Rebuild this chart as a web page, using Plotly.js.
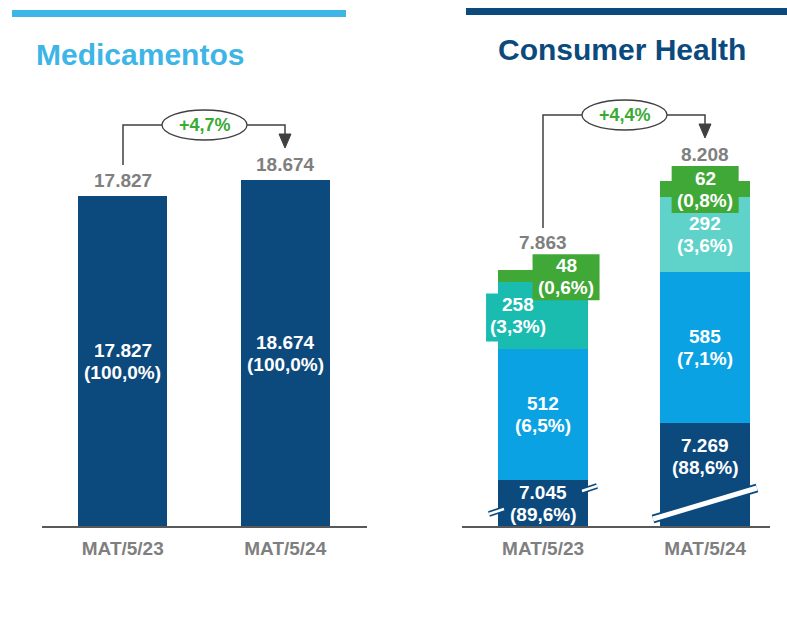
<!DOCTYPE html>
<html>
<head>
<meta charset="utf-8">
<script src="https://cdn.plot.ly/plotly-3.0.1.min.js"></script>
<style>html,body{margin:0;padding:0;background:#fff}#chart{width:787px;height:625px}</style>
</head>
<body>
<div id="chart"></div>
<script>
// ---------- DATA ----------
const categories = ['MAT/5/23', 'MAT/5/24'];
const medValues = [17827, 18674];
const medShares = [100.0, 100.0];
const medGrowth = 4.7;

const chSeg1 = [7045, 7269];   // dark blue (bottom)
const chSeg1Share = [89.6, 88.6];
const chSeg2 = [512, 585];     // light blue
const chSeg2Share = [6.5, 7.1];
const chSeg3 = [258, 292];     // teal
const chSeg3Share = [3.3, 3.6];
const chSeg4 = [48, 62];       // green (top)
const chSeg4Share = [0.6, 0.8];
const chTotals = [7863, 8208];
const chGrowth = 4.4;

// ---------- HELPERS ----------
const W = 787, H = 625;
const FONT = 'Liberation Sans, Arial, sans-serif';
const NAVY = '#0c4a7e', LBLUE = '#0aa2e2', GREEN = '#3fa836';
const TEAL = ['#1bbcb0', '#5fd2c9'];
const GRAY = '#7f7f7f';
const px = x => x / W;
const py = y => 1 - y / H;
const fmtNum = n => String(n).replace(/\B(?=(\d{3})+(?!\d))/g, '.');
const fmtPct = p => p.toFixed(1).replace('.', ',') + '%';

const CH_START = 6867;   // broken-axis start for Consumer Health
const LINE_GAP = 11;     // half line spacing for two-line labels

// ---------- TRACES ----------
const traces = [];
traces.push({
  type: 'bar', x: categories, y: medValues, xaxis: 'x', yaxis: 'y',
  marker: {color: NAVY}, width: 0.55, hoverinfo: 'skip'
});
const chSegs = [
  {v: chSeg1, s: chSeg1Share, c: [NAVY, NAVY]},
  {v: chSeg2, s: chSeg2Share, c: [LBLUE, LBLUE]},
  {v: chSeg3, s: chSeg3Share, c: TEAL},
  {v: chSeg4, s: chSeg4Share, c: [GREEN, GREEN]}
];
chSegs.forEach(seg => traces.push({
  type: 'bar', x: categories, y: seg.v, xaxis: 'x2', yaxis: 'y2',
  marker: {color: seg.c, line: {width: 0}}, width: 0.555, hoverinfo: 'skip'
}));

// ---------- ANNOTATIONS ----------
const ann = [];
const shapes = [];
const inFont = {family: FONT, size: 19, color: '#ffffff', weight: 'bold'};
const totFont = {family: FONT, size: 19, color: GRAY, weight: 'bold'};

function twoLine(xr, yr, x, y, l1, l2, xs, ys) {
  ann.push({xref: xr, yref: yr, x: x, y: y, text: l1, showarrow: false, xanchor: 'center', yanchor: 'middle',
    xshift: xs, yshift: ys + LINE_GAP, font: inFont});
  ann.push({xref: xr, yref: yr, x: x, y: y, text: l2, showarrow: false, xanchor: 'center', yanchor: 'middle',
    xshift: xs, yshift: ys - LINE_GAP, font: inFont});
}

// Medicamentos
medValues.forEach((v, i) => {
  ann.push({xref: 'x', yref: 'y', x: categories[i], y: v, text: fmtNum(v),
    showarrow: false, xanchor: 'center', yanchor: 'middle', yshift: 16, font: totFont});
  twoLine('x', 'y', categories[i], v / 2, fmtNum(v), '(' + fmtPct(medShares[i]) + ')', 0, 0);
});

// Consumer Health segments
const overrides = {
  '0-1': {ys: 18},
  '2-0': {xs: -25, box: TEAL[0], w: 64, h: 48, bys: -2},
  '3-0': {xs: 23, box: GREEN, w: 67, h: 46, bys: -1},
  '3-1': {box: GREEN, w: 67, h: 47, bys: 0}
};
const cum = [0, 0];
chSegs.forEach((seg, s) => {
  seg.v.forEach((v, i) => {
    const base = cum[i];
    const lo = Math.max(base, CH_START);
    const yMid = (lo + base + v) / 2;
    cum[i] += v;
    const o = overrides[s + '-' + i] || {};
    const xs = o.xs || 0, ys = o.ys || 0;
    if (o.box) {
      shapes.push({type: 'rect', xref: 'x2', yref: 'y2', xsizemode: 'pixel', ysizemode: 'pixel',
        xanchor: categories[i], yanchor: yMid, x0: xs - o.w / 2, x1: xs + o.w / 2,
        y0: o.bys - o.h / 2, y1: o.bys + o.h / 2, fillcolor: o.box, line: {width: 0}, layer: 'above'});
    }
    twoLine('x2', 'y2', categories[i], yMid, fmtNum(v), '(' + fmtPct(seg.s[i]) + ')', xs, ys);
  });
});
chTotals.forEach((t, i) => {
  ann.push({xref: 'x2', yref: 'y2', x: categories[i], y: t, text: fmtNum(t),
    showarrow: false, xanchor: 'center', yanchor: 'middle', yshift: i === 0 ? 28 : 27, font: totFont});
});

// Titles
ann.push({xref: 'paper', yref: 'paper', x: px(34), y: py(54), xanchor: 'left', yanchor: 'middle',
  text: 'Medicamentos', showarrow: false, font: {family: FONT, size: 30, color: '#3db5e6', weight: 'bold'}});
ann.push({xref: 'paper', yref: 'paper', x: px(622), y: py(49), xanchor: 'center', yanchor: 'middle',
  text: 'Consumer Health', showarrow: false, font: {family: FONT, size: 30, color: NAVY, weight: 'bold'}});

// Growth labels
const grFont = {family: FONT, size: 18, color: '#3aaa35', weight: 'bold'};
ann.push({xref: 'paper', yref: 'paper', x: px(204.5), y: py(125), xanchor: 'center', yanchor: 'middle',
  text: '+' + fmtPct(medGrowth), showarrow: false, font: grFont});
ann.push({xref: 'paper', yref: 'paper', x: px(624.5), y: py(115), xanchor: 'center', yanchor: 'middle',
  text: '+' + fmtPct(chGrowth), showarrow: false, font: grFont});

// ---------- SHAPES (decorations) ----------
const P = (x, y) => px(x) + ',' + py(y);
const LC = '#404040';
shapes.push(
  // top rules
  {type: 'rect', xref: 'paper', yref: 'paper', x0: px(12), x1: px(346), y0: py(17), y1: py(10), fillcolor: '#3db5e6', line: {width: 0}},
  {type: 'rect', xref: 'paper', yref: 'paper', x0: px(466), x1: px(787), y0: py(15), y1: py(8), fillcolor: NAVY, line: {width: 0}},
  // left bracket
  {type: 'path', xref: 'paper', yref: 'paper', path: 'M' + P(123, 165) + 'L' + P(123, 125) + 'L' + P(162, 125), line: {color: LC, width: 1.5}},
  {type: 'path', xref: 'paper', yref: 'paper', path: 'M' + P(247, 125) + 'L' + P(285, 125) + 'L' + P(285, 136), line: {color: LC, width: 1.5}},
  {type: 'path', xref: 'paper', yref: 'paper', path: 'M' + P(279, 134) + 'L' + P(291, 134) + 'L' + P(285, 148) + 'Z', fillcolor: LC, line: {color: LC, width: 1}},
  {type: 'circle', xref: 'paper', yref: 'paper', x0: px(162), x1: px(247), y0: py(140), y1: py(110), fillcolor: 'rgba(0,0,0,0)', line: {color: LC, width: 1.3}},
  // right bracket
  {type: 'path', xref: 'paper', yref: 'paper', path: 'M' + P(543, 228) + 'L' + P(543, 115) + 'L' + P(582, 115), line: {color: LC, width: 1.5}},
  {type: 'path', xref: 'paper', yref: 'paper', path: 'M' + P(667, 115) + 'L' + P(705, 115) + 'L' + P(705, 126), line: {color: LC, width: 1.5}},
  {type: 'path', xref: 'paper', yref: 'paper', path: 'M' + P(699, 124) + 'L' + P(711, 124) + 'L' + P(705, 138) + 'Z', fillcolor: LC, line: {color: LC, width: 1}},
  {type: 'circle', xref: 'paper', yref: 'paper', x0: px(582), x1: px(667), y0: py(130), y1: py(100), fillcolor: 'rgba(0,0,0,0)', line: {color: LC, width: 1.3}},
  // axis break marks
  {type: 'line', xref: 'paper', yref: 'paper', x0: px(489), y0: py(514), x1: px(504), y1: py(509), line: {color: NAVY, width: 6}},
  {type: 'line', xref: 'paper', yref: 'paper', x0: px(489), y0: py(514), x1: px(504), y1: py(509), line: {color: '#ffffff', width: 2.5}},
  {type: 'line', xref: 'paper', yref: 'paper', x0: px(582), y0: py(491), x1: px(597), y1: py(486), line: {color: NAVY, width: 6}},
  {type: 'line', xref: 'paper', yref: 'paper', x0: px(582), y0: py(491), x1: px(597), y1: py(486), line: {color: '#ffffff', width: 2.5}},
  {type: 'line', xref: 'paper', yref: 'paper', x0: px(653), y0: py(519), x1: px(757), y1: py(488), line: {color: NAVY, width: 9}},
  {type: 'line', xref: 'paper', yref: 'paper', x0: px(653), y0: py(519), x1: px(757), y1: py(488), line: {color: '#ffffff', width: 5}}
);

// ---------- LAYOUT ----------
const xax = {
  type: 'category', showline: true, linecolor: '#595959', linewidth: 1.5, ticks: '',
  showgrid: false, zeroline: false, fixedrange: true, ticklabelstandoff: 5,
  tickfont: {family: FONT, size: 19, color: GRAY, weight: 'bold'}
};
const yDom = [99 / H, 525 / H];
const layout = {
  width: W, height: H, margin: {l: 0, r: 0, t: 0, b: 0},
  paper_bgcolor: '#ffffff', plot_bgcolor: 'rgba(0,0,0,0)',
  showlegend: false, barmode: 'stack', separators: ',.',
  xaxis: Object.assign({}, xax, {domain: [41.5 / W, 366.5 / W], range: [-0.5, 1.5], anchor: 'y'}),
  yaxis: {domain: yDom, range: [0, 23013], visible: false, fixedrange: true, anchor: 'x'},
  xaxis2: Object.assign({}, xax, {domain: [462 / W, 770 / W], range: [-0.5, 1.4], anchor: 'y2'}),
  yaxis2: {domain: yDom, range: [CH_START, 8525], visible: false, fixedrange: true, anchor: 'x2'},
  annotations: ann,
  shapes: shapes
};

Plotly.newPlot('chart', traces, layout, {displayModeBar: false, staticPlot: true});
</script>
</body>
</html>
